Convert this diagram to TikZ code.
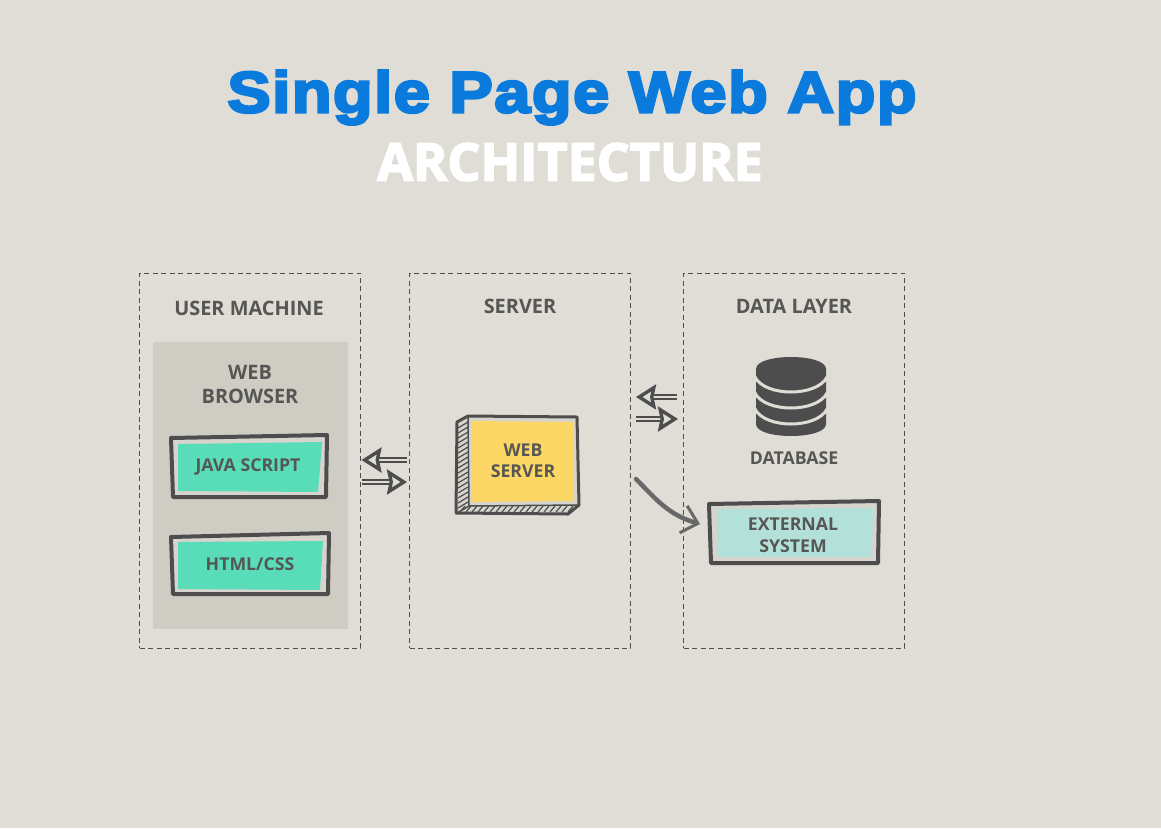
\documentclass[tikz,border=0pt]{standalone}
\usepackage{fontspec}
\setmainfont{Open Sans}
\newfontfamily\labelfont{Open Sans}
\newfontfamily\titlefont{Liberation Sans}[BoldFeatures={FakeBold=4.5,FakeStretch=1.12,LetterSpace=2.6}]
\newfontfamily\subtitlefont{Open Sans}[BoldFeatures={FakeBold=3}]
\usetikzlibrary{arrows.meta, positioning}
\definecolor{paper}{HTML}{DFDDD5}
\definecolor{browsergrey}{HTML}{CFCCC3}
\definecolor{boxgrey}{HTML}{D6D4CC}
\definecolor{inkgrey}{HTML}{4D4D4D}
\definecolor{labelgrey}{HTML}{565654}
\definecolor{tealfill}{HTML}{58DDB8}
\definecolor{sunfill}{HTML}{FDD766}
\definecolor{mintfill}{HTML}{B4E0DA}
\definecolor{titleblue}{HTML}{0A7BDC}
\tikzset{
  panel/.style={rectangle, draw=inkgrey, dashed, line width=1pt, dash pattern=on 5pt off 3.5pt, minimum width=221pt, minimum height=375pt, outer sep=0pt},
  caption/.style={text=labelgrey, font=\labelfont\bfseries\fontsize{19.9}{24}\selectfont, align=center, inner sep=0pt},
  boxtext/.style={text=labelgrey, font=\labelfont\bfseries\fontsize{17.7}{21.5}\selectfont, align=center, inner sep=0pt},
  frame/.style={draw=inkgrey, line width=4pt, line join=round},
  swap/.style={line width=2.2pt, draw=inkgrey, double=paper, double distance=1.6pt, -{Stealth[open, length=20pt, width=25pt, inset=2.5pt, line width=3.4pt, fill=paper]}},
  sketch/.style={draw=inkgrey!85, line width=4.5pt, line cap=round, -{Straight Barb[length=15pt, width=28pt, line width=3pt]}}
}
\begin{document}
\begin{tikzpicture}[x=1pt, y=-1pt]
  \fill[paper] (0,0) rectangle (1161,828);

  % Title
  \node[text=titleblue, font=\titlefont\bfseries\fontsize{58}{62}\selectfont, inner sep=0pt] (title) at (572,97.5) {Single Page Web App};
  \node[text=white, font=\subtitlefont\bfseries\fontsize{52}{56}\selectfont, inner sep=0pt] (subtitle) at (570,162) {ARCHITECTURE};

  % Panels
  \node[panel] (usermachine) at (250,460.5) {};
  \node[panel, right=49pt of usermachine] (server) {};
  \node[panel, right=53pt of server] (datalayer) {};
  \node[caption] (usertitle) at (249,308) {USER MACHINE};
  \node[caption] (servertitle) at (520,306) {SERVER};
  \node[caption] (datatitle) at (794,306) {DATA LAYER};

  % Browser
  \fill[browsergrey] (153,342) rectangle (348,629);
  \node[caption] (browser) at (250,384) {WEB\\BROWSER};

  % Java script box
  \draw[frame, fill=boxgrey] (171,438) -- (327,435) -- (326,497) -- (173,497) -- cycle;
  \fill[tealfill] (178,444) -- (322,442) -- (318,492) -- (178,491) -- cycle;
  \node[boxtext] (javascript) at (248,466.5) {JAVA SCRIPT};

  % Html box
  \draw[frame, fill=boxgrey] (171,537) -- (329,533) -- (328,594) -- (173,594) -- cycle;
  \fill[tealfill] (178,542) -- (323,541) -- (320,590) -- (178,589) -- cycle;
  \node[boxtext] (htmlcss) at (250,564) {HTML/CSS};

  % Web server box
  \draw[frame, fill=boxgrey, line width=3pt] (468,416) -- (577,417) -- (579,505) -- (568,514) -- (456,513) -- (457,422) -- cycle;
  \foreach \y in {424,429,...,504} {
    \draw[inkgrey, line width=1.2pt] (458,\y+4) -- (468,\y-2);
  }
  \foreach \x in {460,466,...,570} {
    \draw[inkgrey, line width=1.2pt] (\x,512) -- (\x+5,506);
  }
  \draw[inkgrey, line width=1.5pt] (468,416) -- (469,506) -- (579,505);
  \draw[inkgrey, line width=1.5pt] (469,506) -- (457,513);
  \fill[sunfill] (472,421) -- (574,422) -- (573,501) -- (472,502) -- cycle;
  \node[boxtext] (webserver) at (523,461) {WEB\\SERVER};

  % Database
  \fill[inkgrey] (756,369) .. controls (756,353) and (826,353) .. (826,369) -- (826,424) .. controls (826,440) and (756,440) .. (756,424) -- cycle;
  \foreach \y in {377,393,409} {
    \draw[paper, line width=3pt] (755,\y) .. controls (765,\y+20) and (817,\y+20) .. (827,\y);
  }
  \node[boxtext] (database) at (794,458.5) {DATABASE};

  % External system box
  \draw[frame, fill=boxgrey] (709,504) -- (879,501) -- (878,563) -- (711,563) -- cycle;
  \fill[mintfill] (717,509) -- (873,508) -- (872,557) -- (717,557) -- cycle;
  \node[boxtext] (external) at (793,535) {EXTERNAL\\SYSTEM};

  % Connections
  \coordinate (browserin) at (361.5,460);
  \coordinate (serverout) at (407,460);
  \coordinate (browserout) at (362,482);
  \coordinate (serverin) at (407,482);
  \coordinate (dataout) at (677,397);
  \coordinate (serverback) at (636,397);
  \coordinate (serverto) at (636,419);
  \coordinate (datain) at (678,419);
  \coordinate (sketchfrom) at (636,479);
  \coordinate (sketchto) at (700,524);
  \draw[swap] (serverout) -- (browserin);
  \draw[swap] (browserout) -- (serverin);
  \draw[swap] (dataout) -- (serverback);
  \draw[swap] (serverto) -- (datain);
  \draw[sketch] (sketchfrom) .. controls (655,498) and (668,515) .. (sketchto);
\end{tikzpicture}
\end{document}
